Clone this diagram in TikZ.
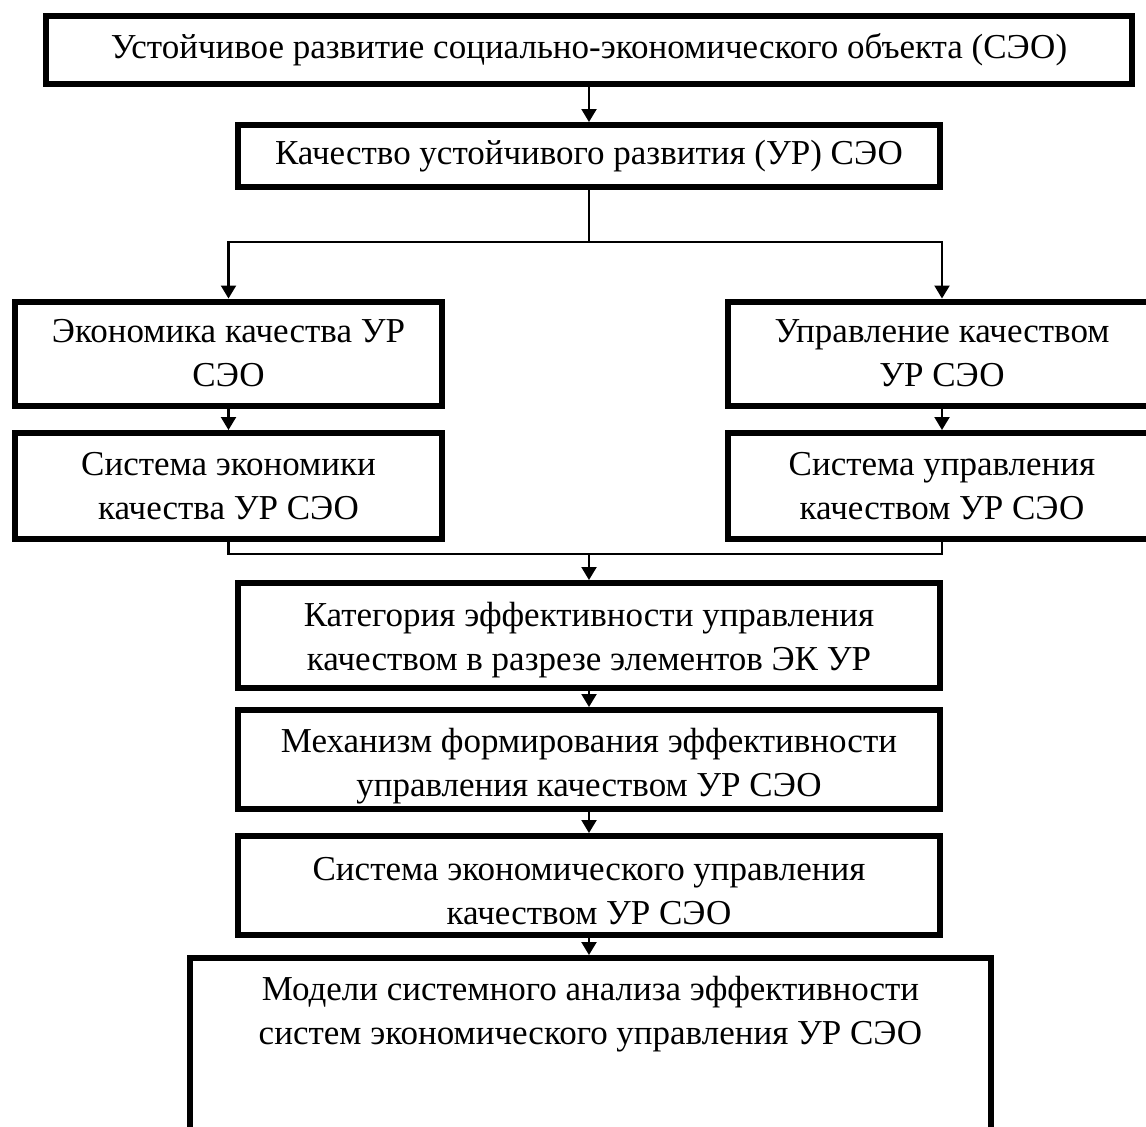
\documentclass[tikz,border=0pt]{standalone}
\usepackage{fontspec}
\setmainfont{Liberation Serif}
\usetikzlibrary{arrows.meta}
\begin{document}
\begin{tikzpicture}[x=0.5pt,y=-0.5pt,
  txt/.style={align=center, font=\fontsize{17.5}{22}\selectfont, inner sep=0pt},
  box/.style={txt, draw, line width=3pt, rectangle},
  sz/.style 2 args={minimum width={#1*0.5pt}, minimum height={#2*0.5pt}},
  link/.style={line width=1.1pt},
  arr/.style={link, -{Triangle[width=7.5pt,length=6.5pt]}}]
\clip (0,0) rectangle (1146,1126);

% upper boxes (text centred in the frame)
\node[box, sz={1086}{68}] (sd) at (589,50) {Устойчивое развитие социально-экономического объекта (СЭО)};
\node[box, sz={702}{62}] (q) at (589,156) {Качество устойчивого развития (УР) СЭО};
\node[box, sz={427}{104}] (e1) at (228.5,353.5) {Экономика качества УР\\СЭО};
\node[box, sz={427}{106}] (e2) at (228.5,486) {Система экономики\\качества УР СЭО};
\node[box, sz={428}{104}] (m1) at (942,353.5) {Управление качеством\\УР СЭО};
\node[box, sz={428}{106}] (m2) at (942,486) {Система управления\\качеством УР СЭО};

% lower boxes: frames and their text set slightly low
\node[box, sz={702}{105}] (k3) at (589,635.5) {};
\node[txt] (k3t) at (589,640) {Категория эффективности управления\\качеством в разрезе элементов ЭК УР};
\node[box, sz={702}{99}] (k4) at (589,759.5) {};
\node[txt] (k4t) at (589,766) {Механизм формирования эффективности\\управления качеством УР СЭО};
\node[box, sz={702}{99}] (k5) at (589,885.5) {};
\node[txt] (k5t) at (589,891) {Система экономического управления\\качеством УР СЭО};
\node[box, sz={801}{260}, anchor=north] (k6) at (590.5,955) {};
\node[txt] (k6t) at (590.5,1014) {Модели системного анализа эффективности\\систем экономического управления УР СЭО};

% junction points
\coordinate (s) at (589,242);
\coordinate (j) at (589,554);

% connectors
\draw[arr] (sd.south) -- (q.north);
\draw[link] (q.south) -- (s);
\draw[arr] (s) -| (e1.north);
\draw[arr] (s) -| (m1.north);
\draw[arr] (e1.south) -- (e2.north);
\draw[arr] (m1.south) -- (m2.north);
\draw[link] (e2.south) |- (j) -| (m2.south);
\draw[arr] (j) -- (k3.north);
\draw[arr] (k3.south) -- (k4.north);
\draw[arr] (k4.south) -- (k5.north);
\draw[arr] (k5.south) -- (k5.south |- k6.north);
\end{tikzpicture}
\end{document}
